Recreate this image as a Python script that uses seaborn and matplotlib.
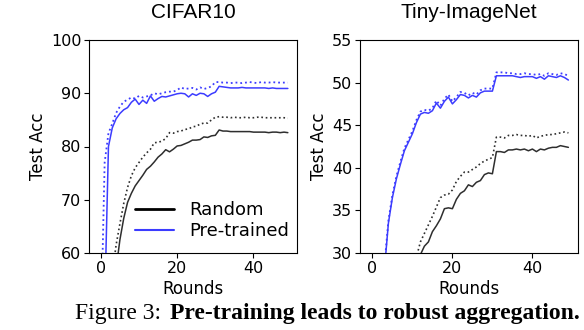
import numpy as np
import matplotlib
matplotlib.use('Agg')
import matplotlib.pyplot as plt
from matplotlib.lines import Line2D
import pandas as pd
import seaborn as sns

rounds = list(range(50))

# CIFAR10 test accuracy (solid = aggregated model, dotted = upper curve)
cifar_random = [20, 35, 45, 52, 57, 62.5, 66.5, 69.5, 71.2, 72.6,
                73.6, 74.6, 75.7, 76.3, 77.1, 78.0, 78.6, 79.4, 79.0, 79.5,
                80.1, 80.2, 80.5, 80.8, 81.2, 81.2, 81.3, 81.8, 81.7, 82.0,
                82.1, 83.1, 82.9, 82.9, 82.8, 82.8, 82.8, 82.8, 82.8, 82.8,
                82.7, 82.7, 82.7, 82.7, 82.6, 82.7, 82.7, 82.6, 82.7, 82.6]
cifar_random_dot = [30, 42, 50, 56, 61.5, 65.5, 69.3, 72.3, 74.5, 76.0,
                    77.0, 78.0, 78.8, 79.5, 80.7, 80.8, 81.0, 81.5, 82.6, 82.5,
                    82.8, 82.9, 83.2, 83.3, 83.7, 83.8, 84.2, 84.4, 84.4, 85.0,
                    85.5, 85.6, 85.5, 85.5, 85.4, 85.5, 85.4, 85.4, 85.5, 85.4,
                    85.4, 85.5, 85.5, 85.4, 85.4, 85.4, 85.4, 85.4, 85.4, 85.3]
cifar_pre = [10, 50, 80, 83.5, 85.2, 86.2, 86.9, 87.3, 88.3, 88.9,
             87.9, 88.7, 88.1, 89.5, 88.5, 89.0, 89.4, 89.3, 89.5, 89.7,
             89.9, 90.0, 89.9, 89.3, 89.9, 89.6, 90.0, 89.9, 89.4, 89.9,
             90.2, 91.3, 91.2, 91.1, 91.0, 91.0, 91.0, 91.1, 91.0, 91.0,
             91.0, 91.0, 91.0, 91.0, 90.9, 91.0, 90.9, 90.9, 90.9, 90.9]
cifar_pre_dot = [45, 77, 82.5, 84.3, 86.3, 87.5, 88.4, 88.8, 89.2, 89.0,
                 89.5, 89.2, 89.4, 89.6, 90.0, 89.8, 90.0, 90.2, 90.3, 90.3,
                 90.6, 91.1, 90.8, 90.9, 91.0, 90.7, 91.1, 90.8, 91.0, 91.3,
                 92.1, 92.1, 92.0, 92.0, 91.9, 92.0, 92.0, 91.9, 92.0, 92.1,
                 92.0, 91.9, 92.1, 92.0, 92.0, 92.1, 92.0, 92.0, 92.0, 92.0]

# Tiny-ImageNet test accuracy
tiny_random = [15, 17, 19, 20.5, 22, 23, 24, 25, 26, 27,
               28, 28.8, 29.8, 30.8, 31.3, 32.5, 33.2, 34.0, 35.2, 35.3,
               35.2, 36.3, 37.0, 37.3, 38.0, 37.8, 38.3, 38.5, 39.2, 39.4,
               39.3, 41.9, 41.9, 41.8, 42.1, 42.1, 42.2, 42.1, 42.2, 42.0,
               42.2, 41.9, 42.2, 42.1, 42.3, 42.4, 42.4, 42.6, 42.5, 42.4]
tiny_random_dot = [16, 18, 20, 21.5, 23, 24, 25, 26, 27, 28,
                   28.7, 29.5, 31.3, 32.3, 33.3, 34.3, 35.4, 36.5, 36.8, 36.9,
                   37.4, 38.4, 39.0, 39.5, 39.5, 39.8, 40.1, 40.5, 40.8, 41.0,
                   41.2, 43.6, 43.6, 43.5, 43.8, 43.8, 43.9, 43.8, 43.8, 43.7,
                   43.8, 43.5, 43.7, 43.8, 43.9, 43.9, 44.0, 44.1, 44.2, 44.1]
tiny_pre = [12, 19, 24, 28, 33.5, 36.5, 38.7, 40.4, 42.0, 43.0,
            44.0, 45.3, 46.3, 46.5, 46.4, 46.7, 47.6, 47.0, 47.8, 48.3,
            47.5, 48.0, 48.6, 48.5, 48.2, 48.5, 48.3, 48.8, 49.0, 49.0,
            49.0, 50.8, 50.8, 50.8, 50.8, 50.8, 50.7, 50.6, 50.7, 50.7,
            50.7, 50.5, 50.7, 50.4, 50.8, 50.7, 50.6, 50.8, 50.6, 50.3]
tiny_pre_dot = [12, 19.5, 24.5, 28.5, 33.8, 36.8, 39.0, 40.7, 42.3, 43.3,
                44.3, 45.6, 46.6, 46.8, 46.7, 47.0, 47.9, 47.3, 48.1, 48.6,
                47.8, 48.3, 48.9, 48.8, 48.5, 48.8, 48.6, 49.1, 49.3, 49.3,
                49.3, 51.2, 51.2, 51.2, 51.1, 51.1, 51.0, 51.0, 51.1, 51.0,
                51.0, 50.9, 51.0, 50.8, 51.1, 51.0, 50.9, 51.1, 51.0, 50.8]

titles = ['CIFAR10', 'Tiny-ImageNet']
ylims = [(60, 100), (30, 55)]
yticks = [[60, 70, 80, 90, 100], [30, 35, 40, 45, 50, 55]]

BLUE = '#3c3cff'
DARK = '#2e2e2e'

sns.set_style('ticks')
plt.rcParams['font.family'] = ['DejaVu Sans']
plt.rcParams['text.color'] = 'black'
plt.rcParams['axes.labelcolor'] = 'black'
plt.rcParams['xtick.color'] = 'black'
plt.rcParams['ytick.color'] = 'black'

fig = plt.figure(figsize=(5.84, 3.30), dpi=100)
W, H = 584, 330
ax1 = fig.add_axes([89 / W, 1 - 253 / H, 208 / W, 213 / H])
ax2 = fig.add_axes([360 / W, 1 - 253 / H, 218 / W, 213 / H])

panels = [
    (ax1, cifar_random, cifar_random_dot, cifar_pre, cifar_pre_dot),
    (ax2, tiny_random, tiny_random_dot, tiny_pre, tiny_pre_dot),
]

for i, (ax, rnd, rnd_dot, pre, pre_dot) in enumerate(panels):
    df = pd.DataFrame({'Rounds': rounds, 'rnd': rnd, 'rnd_dot': rnd_dot,
                       'pre': pre, 'pre_dot': pre_dot})
    sns.lineplot(ax=ax, data=df, x='Rounds', y='rnd_dot', color=DARK, linestyle=':', lw=1.2)
    sns.lineplot(ax=ax, data=df, x='Rounds', y='rnd', color=DARK, lw=1.1)
    sns.lineplot(ax=ax, data=df, x='Rounds', y='pre_dot', color=BLUE, linestyle=':', lw=1.3)
    sns.lineplot(ax=ax, data=df, x='Rounds', y='pre', color=BLUE, lw=1.1)

    ax.set_xlim(-3.1, 51.4)
    ax.set_ylim(*ylims[i])
    ax.set_xticks([0, 20, 40])
    ax.set_yticks(yticks[i])
    ax.tick_params(labelsize=11.5, length=3.5, width=0.8, pad=2)
    ax.set_xlabel('Rounds', fontsize=12, labelpad=3)
    ax.set_ylabel('Test Acc', fontsize=12, labelpad=3)
    ax.set_title(titles[i], fontsize=15, pad=15.5, family='Liberation Sans')
    for s in ax.spines.values():
        s.set_color('black')
        s.set_linewidth(0.8)

handles = [Line2D([], [], color='black', lw=2),
           Line2D([], [], color=BLUE, lw=1.5)]
ax1.legend(handles, ['Random', 'Pre-trained'], loc='lower right', frameon=False,
           fontsize=13, handlelength=2.2, handletextpad=0.8, labelspacing=0.2,
           borderaxespad=0, bbox_to_anchor=(0.995, 0.025))

# caption: regular "Figure 3:" then bold rest
cap1 = fig.text(75 / W, 1 - 319 / H, 'Figure 3:', family='Liberation Serif',
                fontsize=17, ha='left', va='baseline')
fig.canvas.draw()
r = fig.canvas.get_renderer()
bb = cap1.get_window_extent(renderer=r)
fig.text((bb.x1 + 9) / W, 1 - 319 / H, 'Pre-training leads to robust aggregation.',
         family='Liberation Serif', fontweight='bold', fontsize=17,
         ha='left', va='baseline')

fig.savefig('out.png', dpi=100)
